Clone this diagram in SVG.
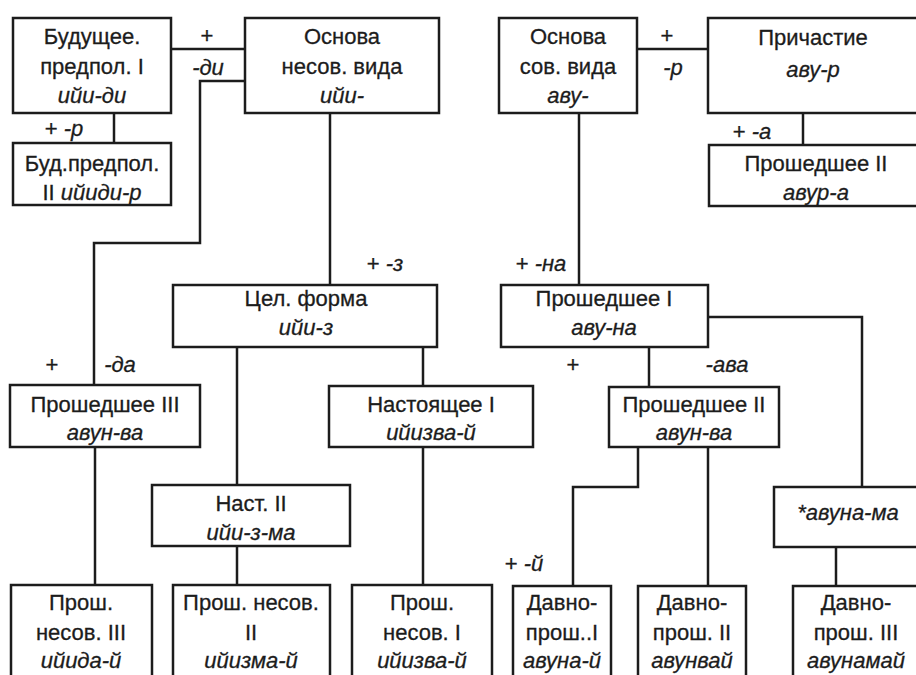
<svg xmlns="http://www.w3.org/2000/svg" width="916" height="675" viewBox="0 0 916 675">
<style>
.b{fill:#fff;stroke:#1c1c1c;stroke-width:2.5}
.c{fill:none;stroke:#1c1c1c;stroke-width:2.5}
text{font-family:"Liberation Sans","DejaVu Sans",sans-serif;font-size:22px;fill:#1c1c1c;text-anchor:middle;stroke:#1c1c1c;stroke-width:0.3}
.i{font-style:italic}
</style>
<rect width="916" height="675" fill="#fff"/>
<g id="connectors">
<path class="c" d="M171,49H245"/>
<path class="c" d="M114,113V143"/>
<path class="c" d="M245,81H200V243H94V385"/>
<path class="c" d="M330,113V285"/>
<path class="c" d="M637,49H708"/>
<path class="c" d="M803,113V145"/>
<path class="c" d="M579,113V285"/>
<path class="c" d="M708,317H862V487"/>
<path class="c" d="M649,347V387"/>
<path class="c" d="M237,347V485M237,546V585"/>
<path class="c" d="M423,347V386M423,447V585"/>
<path class="c" d="M95,447V585"/>
<path class="c" d="M638,447V487H573V586"/>
<path class="c" d="M708,447V586"/>
<path class="c" d="M836,547V586"/>
<text x="207" y="43">+</text>
<text x="208" y="75" class="i">-ди</text>
<text x="64" y="136">+ <tspan class="i">-р</tspan></text>
<text x="667" y="43">+</text>
<text x="673" y="75" class="i">-р</text>
<text x="752" y="139">+ <tspan class="i">-а</tspan></text>
<text x="385" y="271">+ <tspan class="i">-з</tspan></text>
<text x="541" y="271">+ <tspan class="i">-на</tspan></text>
<text x="52" y="372">+</text>
<text x="120" y="372" class="i">-да</text>
<text x="573" y="372">+</text>
<text x="727" y="372" class="i">-ава</text>
<text x="524" y="571">+ <tspan class="i">-й</tspan></text>
</g>
<g id="n_bud1"><rect class="b" x="13" y="18" width="158" height="95"/><text x="92" y="44">Будущее.</text><text x="92" y="74">предпол. I</text><text x="92" y="103" class="i">ийи-ди</text></g>
<g id="n_osn_nesov"><rect class="b" x="245" y="18" width="194" height="95"/><text x="342" y="44">Основа</text><text x="342" y="74">несов. вида</text><text x="342" y="103" class="i">ийи-</text></g>
<g id="n_osn_sov"><rect class="b" x="499" y="18" width="138" height="95"/><text x="568" y="44">Основа</text><text x="568" y="74">сов. вида</text><text x="568" y="103" class="i">аву-</text></g>
<g id="n_prich"><rect class="b" x="708" y="18" width="215" height="95"/><text x="813" y="45">Причастие</text><text x="813" y="77" class="i">аву-р</text></g>
<g id="n_bud2"><rect class="b" x="13" y="143" width="158" height="62"/><text x="92" y="171">Буд.предпол.</text><text x="92" y="200">II <tspan class="i">ийиди-р</tspan></text></g>
<g id="n_past2a"><rect class="b" x="709" y="145" width="214" height="61"/><text x="816" y="171">Прошедшее II</text><text x="816" y="200" class="i">авур-а</text></g>
<g id="n_cel"><rect class="b" x="173" y="285" width="264" height="62"/><text x="306" y="306">Цел. форма</text><text x="306" y="335" class="i">ийи-з</text></g>
<g id="n_past1"><rect class="b" x="501" y="285" width="207" height="62"/><text x="604" y="306">Прошедшее I</text><text x="604" y="335" class="i">аву-на</text></g>
<g id="n_past3"><rect class="b" x="10" y="385" width="190" height="62"/><text x="105" y="412">Прошедшее III</text><text x="105" y="440" class="i">авун-ва</text></g>
<g id="n_nast1"><rect class="b" x="329" y="386" width="204" height="61"/><text x="431" y="412">Настоящее I</text><text x="431" y="440" class="i">ийизва-й</text></g>
<g id="n_past2b"><rect class="b" x="609" y="387" width="170" height="60"/><text x="694" y="412">Прошедшее II</text><text x="694" y="440" class="i">авун-ва</text></g>
<g id="n_nast2"><rect class="b" x="152" y="485" width="198" height="61"/><text x="251" y="511">Наст. II</text><text x="251" y="540" class="i">ийи-з-ма</text></g>
<g id="n_avunama"><rect class="b" x="774" y="487" width="150" height="60"/><text x="848" y="520" class="i">*авуна-ма</text></g>
<g id="n_prn3"><rect class="b" x="11" y="585" width="141" height="100"/><text x="81" y="610">Прош.</text><text x="81" y="640">несов. III</text><text x="81" y="668" class="i">ийида-й</text></g>
<g id="n_prn2"><rect class="b" x="173" y="585" width="157" height="100"/><text x="251" y="610">Прош. несов.</text><text x="251" y="640">II</text><text x="251" y="668" class="i">ийизма-й</text></g>
<g id="n_prn1"><rect class="b" x="352" y="585" width="140" height="100"/><text x="422" y="610">Прош.</text><text x="422" y="640">несов. I</text><text x="422" y="668" class="i">ийизва-й</text></g>
<g id="n_dp1"><rect class="b" x="513" y="586" width="98" height="100"/><text x="562" y="610">Давно-</text><text x="562" y="640">прош..I</text><text x="562" y="668" class="i">авуна-й</text></g>
<g id="n_dp2"><rect class="b" x="638" y="586" width="108" height="100"/><text x="692" y="610">Давно-</text><text x="692" y="640">прош. II</text><text x="692" y="668" class="i">авунвай</text></g>
<g id="n_dp3"><rect class="b" x="793" y="586" width="130" height="100"/><text x="856" y="610">Давно-</text><text x="856" y="640">прош. III</text><text x="856" y="668" class="i">авунамай</text></g>
</svg>
